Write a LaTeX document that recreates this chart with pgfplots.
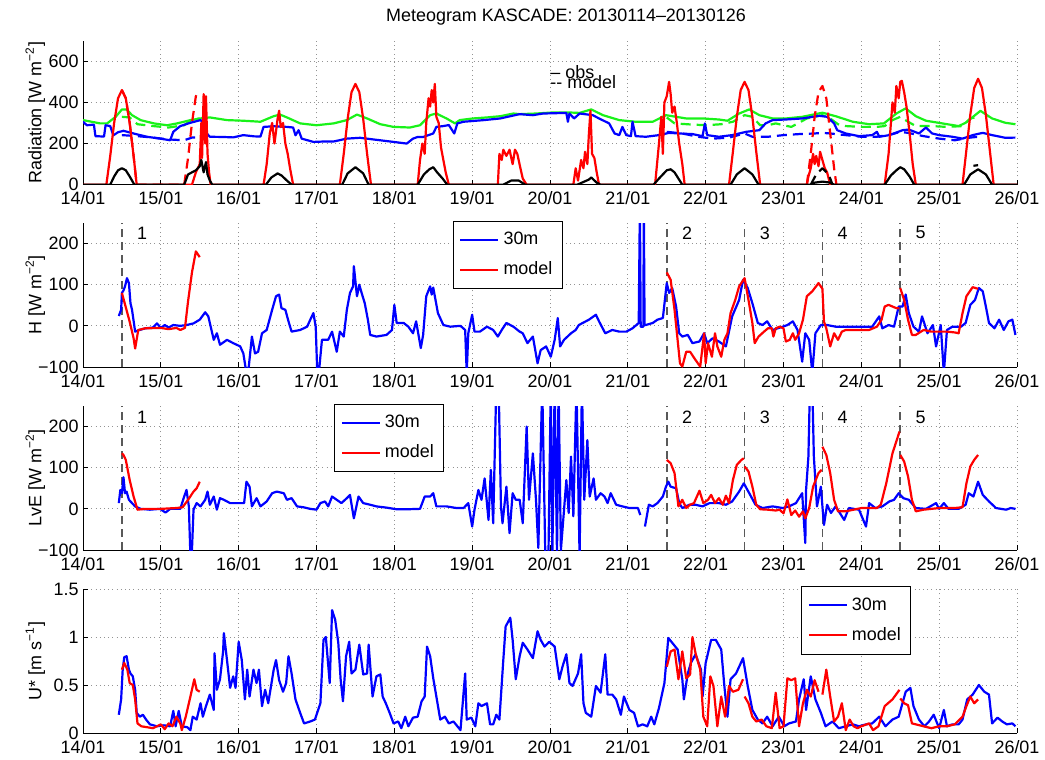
\documentclass[border=0pt]{standalone}
\usepackage{fontspec}
\setmainfont{Liberation Sans}
\usepackage{pgfplots}
\pgfplotsset{compat=1.18}

\definecolor{mblue}{rgb}{0,0,1}
\definecolor{mred}{rgb}{1,0,0}
\definecolor{mgreen}{rgb}{0.1,0.95,0.1}
\definecolor{casegray}{rgb}{0.35,0.35,0.35}

\newcommand{\fs}{\fontsize{9}{10.5}\selectfont}

\pgfplotsset{
  mgram/.style={
    scale only axis, width=467bp, height=72bp,
    anchor=north west,
    xmin=14, xmax=26,
    axis x line*=bottom, axis y line*=left,
    tick align=inside, major tick length=2.5bp,
    xtick={14,...,26},
    xticklabels={14/01,15/01,16/01,17/01,18/01,19/01,20/01,21/01,22/01,23/01,24/01,25/01,26/01},
    grid=major,
    major grid style={gray!85, line width=0.4bp, dash pattern=on 0.5bp off 1.6bp},
    axis line style={black, line width=0.5bp},
    tick style={black, line width=0.5bp},
    ticklabel style={font=\fs},
    label style={font=\fs},
    /pgf/number format/assume math mode=true,
    ylabel style={at={(axis description cs:-0.033,0.5)}, anchor=south},
    yticklabel style={xshift=1.3bp},
    unbounded coords=jump,
    every axis plot/.append style={line width=1.1bp, line join=round},
    legend style={font=\fs, draw=black, line width=0.5bp, fill=white,
      anchor=north west, inner xsep=3bp, inner ysep=3.5bp, row sep=3bp},
    legend cell align=left,
    legend image code/.code={\draw[#1] (0bp,0bp) -- (19bp,0bp);},
  },
  flux/.style={
    ymin=-100, ymax=250, ytick={-100,0,100,200},
    yticklabels={−100,0,100,200},
  },
  cases/.style={forget plot, casegray, line width=0.8bp, dash pattern=on 4bp off 2.5bp},
}

\begin{document}
\begin{tikzpicture}
\useasboundingbox (0,0) rectangle (522.5bp,-380bp);
\node[font=\fs] at (283bp,-8.5bp) {Meteogram KASCADE: 20130114–20130126};

% ---------------- Radiation
\begin{axis}[mgram, at={(41.5bp,-20.35bp)},
  ymin=0, ymax=700, ytick={0,200,400,600},
  ylabel={Radiation [W m\textsuperscript{−2}]}]
\addplot[mgreen] coordinates {(14.0,314) (14.22,298) (14.31,298) (14.42,330) (14.5,366) (14.56,366) (14.63,338) (14.74,314) (14.91,298) (15.08,289) (15.21,298) (15.38,314) (15.51,322) (15.63,327) (15.85,314) (16.06,311) (16.28,306) (16.45,333) (16.53,341) (16.62,327) (16.79,298) (17.0,289) (17.22,298) (17.39,314) (17.52,341) (17.65,322) (17.82,294) (17.99,281) (18.2,278) (18.33,289) (18.46,338) (18.54,346) (18.67,322) (18.78,298) (18.84,314) (19.01,322) (19.19,327) (19.36,333) (19.53,346) (19.61,343) (19.82,346) (20.03,351) (20.25,351) (20.38,349) (20.53,366) (20.68,338) (20.89,314) (21.1,306) (21.32,306) (21.49,338) (21.62,330) (21.75,322) (21.96,322) (22.17,317) (22.28,311) (22.43,346) (22.56,366) (22.69,338) (22.86,322) (23.03,322) (23.24,330) (23.5,350) (23.67,333) (23.89,306) (24.1,294) (24.29,298) (24.45,346) (24.57,371) (24.7,333) (24.83,311) (25.04,298) (25.25,285) (25.34,301) (25.53,359) (25.68,322) (25.85,301) (25.98,294)};
\addplot[mgreen, dash pattern=on 5bp off 3bp] coordinates {(14.5,330) (14.6,327) (14.7,294) (14.9,285) (15.1,278) (15.3,289) (15.4,317) (15.5,322) (15.5,nan) (21.5,327) (21.6,298) (21.8,293) (22.0,289) (22.2,294) (22.35,306) (22.5,338) (22.6,330) (22.7,289) (22.8,289) (22.9,298) (23.0,289) (23.1,281) (23.2,301) (23.3,322) (23.4,330) (23.5,338) (23.6,322) (23.7,294) (23.8,285) (24.0,281) (24.2,281) (24.3,285) (24.4,314) (24.5,330) (24.6,306) (24.7,285) (24.9,285) (25.1,281) (25.3,285) (25.4,322) (25.5,330)};
\addplot[mblue] coordinates {(14.0,306) (14.05,289) (14.14,292) (14.16,236) (14.27,234) (14.29,289) (14.35,285) (14.39,240) (14.45,255) (14.52,262) (14.65,249) (14.82,233) (14.99,224) (15.12,216) (15.16,257) (15.25,285) (15.38,301) (15.51,314) (15.55,300) (15.59,249) (15.63,233) (15.8,232) (15.93,230) (16.06,241) (16.2,235) (16.28,234) (16.32,281) (16.45,284) (16.62,281) (16.7,278) (16.73,240) (16.77,265) (16.81,224) (16.96,208) (17.1,210) (17.22,210) (17.39,224) (17.56,228) (17.73,220) (17.99,208) (18.16,200) (18.24,224) (18.3,232) (18.37,232) (18.5,249) (18.54,281) (18.63,285) (18.7,290) (18.77,249) (18.81,298) (18.89,306) (19.15,314) (19.36,322) (19.61,343) (19.78,338) (19.91,346) (20.21,349) (20.23,306) (20.25,346) (20.31,322) (20.38,346) (20.55,338) (20.63,322) (20.76,298) (20.83,249) (20.89,241) (20.93,281) (20.98,241) (21.04,236) (21.06,306) (21.1,236) (21.23,233) (21.4,241) (21.53,252) (21.66,249) (21.83,246) (21.96,236) (21.99,298) (22.02,241) (22.17,233) (22.34,241) (22.52,257) (22.69,265) (22.77,298) (22.86,314) (23.03,317) (23.24,322) (23.46,335) (23.56,330) (23.65,298) (23.69,265) (23.8,249) (23.97,236) (24.14,241) (24.2,257) (24.23,233) (24.36,241) (24.53,265) (24.61,268) (24.74,249) (24.83,278) (24.91,249) (25.0,241) (25.17,233) (25.3,224) (25.43,241) (25.56,252) (25.68,241) (25.85,228) (25.98,229)};
\addplot[mblue, dash pattern=on 5bp off 3bp] coordinates {(14.5,241) (14.7,236) (14.9,229) (15.1,220) (15.3,216) (15.4,229) (15.5,229) (15.5,nan) (21.5,257) (21.7,249) (21.9,233) (22.1,224) (22.3,229) (22.5,249) (22.6,233) (22.8,233) (23.0,241) (23.2,246) (23.4,249) (23.5,252) (23.6,249) (23.8,241) (24.0,233) (24.2,233) (24.4,246) (24.5,257) (24.6,252) (24.8,236) (25.0,224) (25.2,216) (25.4,229) (25.5,233)};
\addplot[mred] coordinates {(14.0,0) (14.3,0) (14.35,140) (14.4,300) (14.45,420) (14.5,460) (14.55,420) (14.6,300) (14.65,140) (14.69,0) (15.4,0) (15.45,60) (15.5,100) (15.52,300) (15.53,130) (15.55,440) (15.57,200) (15.58,430) (15.6,150) (15.62,60) (15.64,0) (16.32,0) (16.36,100) (16.4,250) (16.43,300) (16.46,200) (16.5,320) (16.52,360) (16.54,280) (16.57,300) (16.6,200) (16.63,150) (16.66,80) (16.7,0) (17.3,0) (17.35,150) (17.4,320) (17.45,450) (17.5,490) (17.55,450) (17.6,320) (17.65,150) (17.7,0) (18.3,0) (18.33,120) (18.36,200) (18.39,150) (18.41,300) (18.44,420) (18.46,380) (18.48,460) (18.5,400) (18.52,490) (18.54,330) (18.57,300) (18.6,180) (18.63,120) (18.66,60) (18.7,0) (19.33,0) (19.35,150) (19.38,120) (19.4,170) (19.44,140) (19.48,170) (19.52,100) (19.55,170) (19.58,150) (19.62,80) (19.65,30) (19.7,0) (20.3,0) (20.33,80) (20.36,20) (20.4,120) (20.43,80) (20.45,160) (20.48,100) (20.5,250) (20.52,360) (20.54,150) (20.57,130) (20.6,60) (20.63,0) (21.35,0) (21.4,200) (21.43,330) (21.45,150) (21.47,400) (21.5,430) (21.53,500) (21.55,440) (21.57,350) (21.6,380) (21.63,300) (21.66,200) (21.7,100) (21.73,0) (22.3,0) (22.35,160) (22.4,330) (22.45,460) (22.5,500) (22.55,460) (22.6,330) (22.65,160) (22.7,0) (23.3,0) (23.32,40) (23.35,80) (23.38,150) (23.4,100) (23.42,140) (23.45,90) (23.47,160) (23.5,120) (23.53,80) (23.56,60) (23.6,0) (24.3,0) (24.35,150) (24.38,300) (24.4,400) (24.43,350) (24.45,480) (24.48,420) (24.5,500) (24.52,505) (24.55,450) (24.58,380) (24.62,250) (24.66,100) (24.7,0) (25.3,0) (25.35,170) (25.4,340) (25.45,470) (25.5,515) (25.55,470) (25.6,340) (25.65,170) (25.7,0) (26,0)};
\addplot[mred, dash pattern=on 5bp off 3bp] coordinates {(14.5,460) (14.55,420) (14.6,300) (14.65,140) (14.69,0) (15.3,0) (15.35,130) (15.4,300) (15.45,430) (15.49,460) (15.49,nan) (23.3,0) (23.35,150) (23.4,330) (23.45,450) (23.5,480) (23.55,420) (23.6,250) (23.65,80) (23.68,0)};
\addplot[black] coordinates {(14,0) (14.35,0) (14.4,40) (14.45,70) (14.5,80) (14.55,70) (14.6,40) (14.66,0) (15.3,0) (15.35,50) (15.4,60) (15.45,70) (15.5,90) (15.52,120) (15.55,60) (15.58,110) (15.6,50) (15.63,20) (15.66,0) (16.35,0) (16.42,35) (16.5,55) (16.55,45) (16.62,20) (16.68,0) (17.33,0) (17.4,55) (17.5,85) (17.6,55) (17.67,0) (18.3,0) (18.38,50) (18.45,75) (18.5,85) (18.55,60) (18.62,30) (18.68,0) (19.4,0) (19.5,20) (19.6,20) (19.68,0) (20.35,0) (20.5,25) (20.53,35) (20.6,10) (20.65,0) (21.33,0) (21.4,30) (21.5,70) (21.55,75) (21.6,60) (21.7,0) (22.32,0) (22.4,50) (22.5,80) (22.6,50) (22.68,0) (23.35,0) (23.4,10) (23.5,15) (23.6,10) (23.65,0) (24.3,0) (24.38,45) (24.45,70) (24.5,85) (24.55,75) (24.62,40) (24.68,0) (25.32,0) (25.4,50) (25.5,75) (25.6,50) (25.68,0) (26,0)};
\addplot[black, dash pattern=on 5bp off 3bp] coordinates {(23.35,0) (23.42,50) (23.5,80) (23.58,50) (23.63,0) (23.63,nan) (25.44,92) (25.5,95)};
\node[font=\fs, anchor=west, inner sep=0pt] at (axis cs:20.0,548) {– obs};
\node[font=\fs, anchor=west, inner sep=0pt] at (axis cs:20.0,500) {-{}- model};
\end{axis}

% ---------------- H
\begin{axis}[mgram, flux, at={(41.5bp,-111.5bp)},
  ylabel={H [W m\textsuperscript{−2}]},
  legend style={at={(0.396,1.014)}}]
\addplot[cases] coordinates {(14.5,-100) (14.5,250) (14.5,nan) (21.5,-100) (21.5,250) (21.5,nan) (22.5,-100) (22.5,250) (22.5,nan) (23.5,-100) (23.5,250) (23.5,nan) (24.5,-100) (24.5,250)};
\addplot[mblue] coordinates {(14.46,24) (14.49,39) (14.5,80) (14.52,86) (14.54,96) (14.565,116) (14.59,104) (14.61,55) (14.63,39) (14.67,-14) (14.71,-11) (14.8,-6) (14.9,-4) (14.95,6) (15.0,-5) (15.05,2) (15.1,-4) (15.16,2) (15.25,0) (15.33,2) (15.42,6) (15.5,15) (15.57,33) (15.61,23) (15.68,-34) (15.72,-18) (15.76,-46) (15.85,-34) (15.93,-42) (16.02,-50) (16.06,-67) (16.1,-115) (16.13,-99) (16.17,-26) (16.21,-67) (16.25,-63) (16.3,-18) (16.36,-10) (16.43,39) (16.48,72) (16.52,76) (16.55,43) (16.6,39) (16.64,11) (16.68,-14) (16.79,-10) (16.88,-2) (16.92,15) (16.96,31) (16.99,-2) (17.01,-115) (17.03,-115) (17.07,-34) (17.15,-34) (17.2,-14) (17.26,-63) (17.3,-14) (17.35,-26) (17.39,39) (17.43,80) (17.47,96) (17.48,145) (17.52,72) (17.55,100) (17.58,80) (17.62,55) (17.66,15) (17.69,-22) (17.77,-26) (17.9,-22) (17.97,-10) (18.0,51) (18.03,7) (18.12,7) (18.18,-2) (18.24,-18) (18.28,11) (18.34,-54) (18.37,-22) (18.41,72) (18.46,96) (18.48,76) (18.5,93) (18.56,31) (18.63,2) (18.72,-2) (18.85,0) (18.91,-10) (18.93,-115) (18.95,-18) (19.0,27) (19.03,-14) (19.1,-14) (19.19,-2) (19.27,-10) (19.33,-26) (19.38,-10) (19.44,7) (19.53,-2) (19.61,-14) (19.65,-18) (19.71,-42) (19.78,-26) (19.84,-91) (19.88,-59) (19.95,-50) (20.01,-75) (20.06,-34) (20.1,19) (20.13,-50) (20.18,-34) (20.27,-18) (20.33,-10) (20.37,2) (20.42,7) (20.5,15) (20.59,27) (20.63,11) (20.71,-18) (20.8,-10) (20.89,-14) (20.98,-14) (21.06,-6) (21.14,7) (21.155,300) (21.165,-2) (21.2,-2) (21.205,300) (21.215,2) (21.23,2) (21.32,7) (21.38,15) (21.45,19) (21.5,104) (21.53,80) (21.57,92) (21.62,47) (21.66,-18) (21.7,-26) (21.77,-22) (21.83,-42) (21.92,-38) (21.98,-18) (22.02,-42) (22.09,-30) (22.17,-38) (22.26,-50) (22.34,23) (22.43,63) (22.48,112) (22.54,92) (22.6,55) (22.67,7) (22.73,2) (22.79,11) (22.86,-10) (22.99,-2) (23.05,2) (23.12,11) (23.18,-10) (23.24,-87) (23.28,-18) (23.33,-34) (23.37,-115) (23.41,-18) (23.48,2) (23.56,2) (23.67,-2) (23.8,-2) (23.93,-2) (24.06,-2) (24.14,-2) (24.23,23) (24.27,-6) (24.35,2) (24.42,-2) (24.48,47) (24.53,47) (24.57,76) (24.61,31) (24.67,-2) (24.74,-14) (24.78,23) (24.85,-18) (24.92,2) (24.96,-50) (25.02,2) (25.06,-115) (25.1,-10) (25.17,-2) (25.28,-2) (25.34,7) (25.4,51) (25.46,63) (25.51,92) (25.56,84) (25.6,47) (25.64,7) (25.71,-6) (25.77,15) (25.83,-10) (25.89,11) (25.94,15) (25.98,-22)};
\addlegendentry{30m}
\addplot[mred] coordinates {(14.5,80) (14.55,45) (14.6,10) (14.65,-30) (14.67,-55) (14.71,-10) (14.8,-6) (15.0,-5) (15.1,-8) (15.2,-5) (15.25,-10) (15.31,-5) (15.35,60) (15.4,130) (15.45,181) (15.5,167) (15.5,nan) (21.5,130) (21.55,112) (21.6,39) (21.67,-91) (21.7,-99) (21.75,-63) (21.8,-63) (21.87,-83) (21.93,-99) (21.98,-18) (22.0,-91) (22.03,-42) (22.08,-75) (22.12,-18) (22.15,-50) (22.2,-75) (22.24,-34) (22.28,-18) (22.32,31) (22.38,63) (22.43,96) (22.5,116) (22.55,63) (22.6,7) (22.63,-42) (22.68,-26) (22.75,-14) (22.8,-6) (22.85,-6) (22.87,-26) (22.9,-6) (22.95,-2) (23.0,-6) (23.03,-38) (23.08,-34) (23.12,-18) (23.15,-34) (23.2,-18) (23.25,15) (23.3,72) (23.37,84) (23.45,104) (23.5,90) (23.52,10) (23.55,-6) (23.6,-50) (23.65,-18) (23.7,-34) (23.75,-14) (23.8,-10) (23.9,-10) (24.0,-10) (24.1,-10) (24.2,-2) (24.26,15) (24.3,47) (24.35,51) (24.45,43) (24.49,43) (24.49,nan) (24.5,92) (24.55,63) (24.6,15) (24.65,-22) (24.7,-22) (24.8,-10) (24.9,-14) (25.0,-14) (25.1,-14) (25.2,-16) (25.25,-18) (25.3,31) (25.35,72) (25.43,94) (25.5,90)};
\addlegendentry{model}
\node[font=\fs] at (axis cs:14.76,226) {1};
\node[font=\fs] at (axis cs:21.76,226) {2};
\node[font=\fs] at (axis cs:22.76,226) {3};
\node[font=\fs] at (axis cs:23.76,226) {4};
\node[font=\fs] at (axis cs:24.76,226) {5};
\end{axis}

% ---------------- LvE
\begin{axis}[mgram, flux, at={(41.5bp,-203bp)},
  ylabel={LvE [W m\textsuperscript{−2}]},
  legend style={at={(0.269,1.014)}}]
\addplot[cases] coordinates {(14.5,-100) (14.5,250) (14.5,nan) (21.5,-100) (21.5,250) (21.5,nan) (22.5,-100) (22.5,250) (22.5,nan) (23.5,-100) (23.5,250) (23.5,nan) (24.5,-100) (24.5,250)};
\addplot[mblue] coordinates {(14.46,14) (14.48,46) (14.5,38) (14.52,77) (14.54,38) (14.56,42) (14.59,22) (14.63,14) (14.67,6) (14.74,0) (14.86,-2) (14.99,0) (15.06,-9) (15.12,0) (15.25,0) (15.3,30) (15.33,46) (15.36,6) (15.38,-115) (15.4,-100) (15.42,-2) (15.46,14) (15.51,6) (15.57,22) (15.6,42) (15.63,10) (15.68,30) (15.72,-2) (15.76,26) (15.81,22) (15.89,14) (15.96,14) (16.02,14) (16.07,14) (16.1,66) (16.14,54) (16.17,6) (16.23,26) (16.28,6) (16.36,18) (16.43,38) (16.49,42) (16.58,38) (16.62,22) (16.68,26) (16.75,6) (16.83,4) (16.92,0) (17.0,-2) (17.05,14) (17.11,18) (17.15,6) (17.2,30) (17.26,22) (17.32,14) (17.39,26) (17.43,34) (17.48,-23) (17.54,30) (17.6,14) (17.69,10) (17.77,6) (17.9,3) (18.03,-1) (18.16,-1) (18.33,0) (18.39,30) (18.46,30) (18.5,38) (18.54,6) (18.67,6) (18.8,2) (18.89,2) (18.95,14) (19.0,-43) (19.03,-2) (19.08,46) (19.12,22) (19.16,74) (19.21,-27) (19.24,95) (19.27,-35) (19.31,300) (19.34,300) (19.37,6) (19.39,-35) (19.44,54) (19.48,-59) (19.52,38) (19.56,22) (19.61,22) (19.65,-35) (19.7,200) (19.73,22) (19.78,135) (19.82,22) (19.85,-95) (19.9,300) (19.94,-115) (19.98,-115) (20.01,300) (20.03,-115) (20.06,300) (20.09,-115) (20.11,300) (20.14,-100) (20.21,70) (20.24,-10) (20.27,127) (20.3,-18) (20.34,300) (20.38,-115) (20.41,300) (20.44,22) (20.48,167) (20.51,30) (20.56,74) (20.59,22) (20.65,38) (20.7,30) (20.74,14) (20.78,38) (20.85,10) (20.93,6) (21.02,2) (21.13,2) (21.16,-15) (21.19,nan) (21.22,-43) (21.27,10) (21.32,6) (21.38,14) (21.45,30) (21.49,54) (21.52,66) (21.55,54) (21.62,50) (21.66,14) (21.7,2) (21.79,10) (21.87,10) (21.96,6) (22.05,14) (22.17,14) (22.26,10) (22.34,18) (22.43,42) (22.49,62) (22.56,38) (22.64,10) (22.73,2) (22.86,6) (22.99,2) (23.07,6) (23.16,14) (23.24,38) (23.28,-83) (23.29,46) (23.32,127) (23.34,300) (23.37,300) (23.39,127) (23.43,6) (23.48,54) (23.5,6) (23.52,-39) (23.56,10) (23.61,-10) (23.67,6) (23.78,-27) (23.84,2) (23.97,-2) (24.06,-43) (24.1,14) (24.18,2) (24.27,6) (24.36,18) (24.42,22) (24.48,38) (24.54,26) (24.61,22) (24.7,2) (24.83,0) (24.96,14) (25.0,0) (25.06,14) (25.12,0) (25.25,0) (25.34,10) (25.38,38) (25.44,30) (25.5,66) (25.56,34) (25.64,18) (25.73,2) (25.86,-2) (25.92,2) (25.98,0)};
\addlegendentry{30m}
\addplot[mred] coordinates {(14.5,135) (14.52,131) (14.55,119) (14.6,70) (14.65,30) (14.7,-2) (14.8,0) (15.0,0) (15.2,2) (15.28,4) (15.35,22) (15.42,42) (15.46,50) (15.5,66) (15.5,nan) (21.5,119) (21.55,111) (21.6,87) (21.65,6) (21.7,22) (21.75,2) (21.8,10) (21.85,14) (21.92,44) (21.97,14) (22.03,22) (22.07,34) (22.12,14) (22.17,26) (22.22,10) (22.26,32) (22.3,14) (22.35,70) (22.4,107) (22.46,119) (22.49,123) (22.49,nan) (22.5,103) (22.55,91) (22.6,54) (22.65,10) (22.7,-1) (22.8,-2) (22.9,-4) (22.95,-2) (23.0,-11) (23.05,23) (23.1,-15) (23.15,-4) (23.2,-19) (23.25,-6) (23.28,-23) (23.33,2) (23.38,54) (23.45,87) (23.49,95) (23.49,nan) (23.5,151) (23.55,131) (23.6,87) (23.65,22) (23.7,-6) (23.8,-6) (23.9,-2) (24.0,2) (24.1,2) (24.2,2) (24.25,10) (24.32,62) (24.4,135) (24.47,176) (24.49,188) (24.49,nan) (24.5,131) (24.55,115) (24.6,79) (24.65,22) (24.7,-6) (24.8,-2) (25.0,2) (25.2,2) (25.3,4) (25.35,62) (25.4,103) (25.45,119) (25.5,131)};
\addlegendentry{model}
\node[font=\fs] at (axis cs:14.76,223) {1};
\node[font=\fs] at (axis cs:21.76,223) {2};
\node[font=\fs] at (axis cs:22.76,223) {3};
\node[font=\fs] at (axis cs:23.76,223) {4};
\node[font=\fs] at (axis cs:24.76,223) {5};
\end{axis}

% ---------------- U*
\begin{axis}[mgram, at={(41.5bp,-294.5bp)},
  ymin=0, ymax=1.5, ytick={0,0.5,1,1.5}, yticklabels={0,0.5,1,1.5},
  ylabel={U* [m s\textsuperscript{−1}]},
  legend style={at={(0.769,1.02)}}]
\addplot[mblue] coordinates {(14.46,0.19) (14.49,0.35) (14.51,0.66) (14.53,0.79) (14.56,0.8) (14.59,0.66) (14.61,0.62) (14.64,0.59) (14.67,0.45) (14.69,0.21) (14.73,0.17) (14.77,0.19) (14.81,0.14) (14.86,0.09) (14.95,0.07) (15.04,0.08) (15.12,0.07) (15.16,0.23) (15.19,0.07) (15.23,0.23) (15.27,0.07) (15.34,0.06) (15.38,0.03) (15.41,0.17) (15.46,0.14) (15.51,0.31) (15.54,0.17) (15.58,0.28) (15.63,0.4) (15.68,0.24) (15.69,0.83) (15.72,0.45) (15.76,0.56) (15.8,0.85) (15.81,1.04) (15.85,0.76) (15.89,0.47) (15.93,0.59) (15.96,0.47) (16.0,0.95) (16.04,0.76) (16.08,0.35) (16.11,0.66) (16.14,0.38) (16.19,0.66) (16.23,0.52) (16.26,0.66) (16.3,0.28) (16.34,0.45) (16.38,0.31) (16.45,0.66) (16.48,0.76) (16.52,0.55) (16.57,0.43) (16.61,0.52) (16.64,0.8) (16.68,0.62) (16.73,0.35) (16.79,0.21) (16.84,0.1) (16.92,0.12) (16.98,0.14) (17.05,0.31) (17.09,0.97) (17.12,1.0) (17.17,0.52) (17.2,1.28) (17.24,1.18) (17.28,0.94) (17.31,0.56) (17.34,0.33) (17.38,0.8) (17.42,0.95) (17.45,0.62) (17.5,0.66) (17.55,0.92) (17.6,0.61) (17.65,0.62) (17.67,0.92) (17.72,0.38) (17.77,0.59) (17.82,0.61) (17.85,0.38) (17.89,0.31) (17.94,0.21) (17.99,0.1) (18.05,0.12) (18.09,0.05) (18.14,0.17) (18.18,0.07) (18.24,0.16) (18.3,0.17) (18.35,0.33) (18.39,0.38) (18.42,0.9) (18.46,0.8) (18.5,0.57) (18.54,0.38) (18.59,0.14) (18.65,0.17) (18.7,0.1) (18.76,0.12) (18.85,0.03) (18.91,0.62) (18.93,0.14) (18.99,0.16) (19.04,0.07) (19.08,0.31) (19.12,0.28) (19.19,0.31) (19.23,0.09) (19.27,0.09) (19.31,0.19) (19.35,0.14) (19.4,0.76) (19.43,1.11) (19.49,1.2) (19.52,0.97) (19.56,0.56) (19.61,0.8) (19.65,0.94) (19.71,0.87) (19.78,0.78) (19.84,1.06) (19.88,0.97) (19.93,0.9) (19.99,0.95) (20.06,0.9) (20.12,0.56) (20.16,0.69) (20.21,0.82) (20.25,0.52) (20.29,0.49) (20.36,0.62) (20.4,0.82) (20.43,0.31) (20.46,0.21) (20.53,0.17) (20.59,0.49) (20.65,0.42) (20.71,0.82) (20.74,0.4) (20.8,0.4) (20.85,0.35) (20.91,0.19) (20.95,0.38) (21.02,0.24) (21.08,0.21) (21.13,0.07) (21.19,0.09) (21.25,0.07) (21.3,0.17) (21.34,0.09) (21.4,0.26) (21.47,0.52) (21.52,0.99) (21.57,0.94) (21.64,0.87) (21.7,0.56) (21.72,0.35) (21.77,0.62) (21.81,0.73) (21.87,0.82) (21.94,0.66) (21.96,0.38) (22.0,0.73) (22.07,0.97) (22.13,0.97) (22.2,0.87) (22.24,0.49) (22.28,0.17) (22.32,0.56) (22.39,0.62) (22.43,0.69) (22.48,0.78) (22.54,0.49) (22.6,0.24) (22.67,0.14) (22.73,0.1) (22.79,0.17) (22.86,0.07) (22.94,0.17) (23.01,0.07) (23.07,0.1) (23.16,0.12) (23.2,0.35) (23.26,0.56) (23.29,0.24) (23.35,0.59) (23.41,0.35) (23.48,0.21) (23.54,0.07) (23.63,0.12) (23.71,0.05) (23.8,0.07) (23.89,0.09) (23.97,0.07) (24.06,0.09) (24.14,0.1) (24.23,0.17) (24.31,0.07) (24.4,0.14) (24.48,0.17) (24.57,0.43) (24.63,0.47) (24.67,0.28) (24.74,0.14) (24.81,0.07) (24.87,0.12) (24.93,0.19) (25.0,0.05) (25.06,0.24) (25.1,0.07) (25.17,0.09) (25.25,0.09) (25.3,0.14) (25.36,0.35) (25.43,0.4) (25.51,0.5) (25.58,0.43) (25.64,0.4) (25.68,0.1) (25.75,0.16) (25.81,0.12) (25.87,0.09) (25.94,0.1) (25.98,0.07)};
\addlegendentry{30m}
\addplot[mred] coordinates {(14.5,0.66) (14.53,0.73) (14.57,0.66) (14.6,0.52) (14.64,0.5) (14.67,0.35) (14.7,0.1) (14.75,0.07) (14.9,0.05) (15.0,0.09) (15.05,0.04) (15.1,0.1) (15.15,0.07) (15.2,0.17) (15.25,0.1) (15.27,0.03) (15.32,0.17) (15.38,0.38) (15.43,0.56) (15.46,0.45) (15.5,0.43) (15.5,nan) (21.5,0.69) (21.55,0.85) (21.6,0.87) (21.65,0.56) (21.7,0.85) (21.75,0.57) (21.8,0.61) (21.83,1.0) (21.87,0.83) (21.93,0.66) (21.97,0.17) (22.02,0.07) (22.06,0.59) (22.1,0.49) (22.15,0.07) (22.2,0.38) (22.25,0.17) (22.3,0.49) (22.35,0.43) (22.42,0.45) (22.48,0.56) (22.49,nan) (22.5,0.38) (22.55,0.31) (22.6,0.17) (22.65,0.12) (22.72,0.14) (22.78,0.07) (22.85,0.05) (22.9,0.42) (22.95,0.05) (23.0,0.07) (23.05,0.57) (23.1,0.55) (23.15,0.57) (23.2,0.07) (23.25,0.31) (23.3,0.45) (23.35,0.38) (23.4,0.55) (23.45,0.43) (23.49,nan) (23.5,0.4) (23.55,0.66) (23.6,0.38) (23.65,0.12) (23.7,0.17) (23.75,0.31) (23.8,0.03) (23.85,0.14) (23.9,0.07) (23.95,0.05) (24.0,0.07) (24.1,0.1) (24.15,0.03) (24.22,0.07) (24.3,0.28) (24.4,0.35) (24.49,0.45) (24.49,nan) (24.5,0.36) (24.55,0.31) (24.6,0.29) (24.65,0.1) (24.7,0.09) (24.8,0.07) (24.9,0.05) (25.0,0.07) (25.1,0.07) (25.2,0.09) (25.3,0.17) (25.35,0.28) (25.4,0.38) (25.45,0.31) (25.5,0.35)};
\addlegendentry{model}
\end{axis}
\end{tikzpicture}
\end{document}
